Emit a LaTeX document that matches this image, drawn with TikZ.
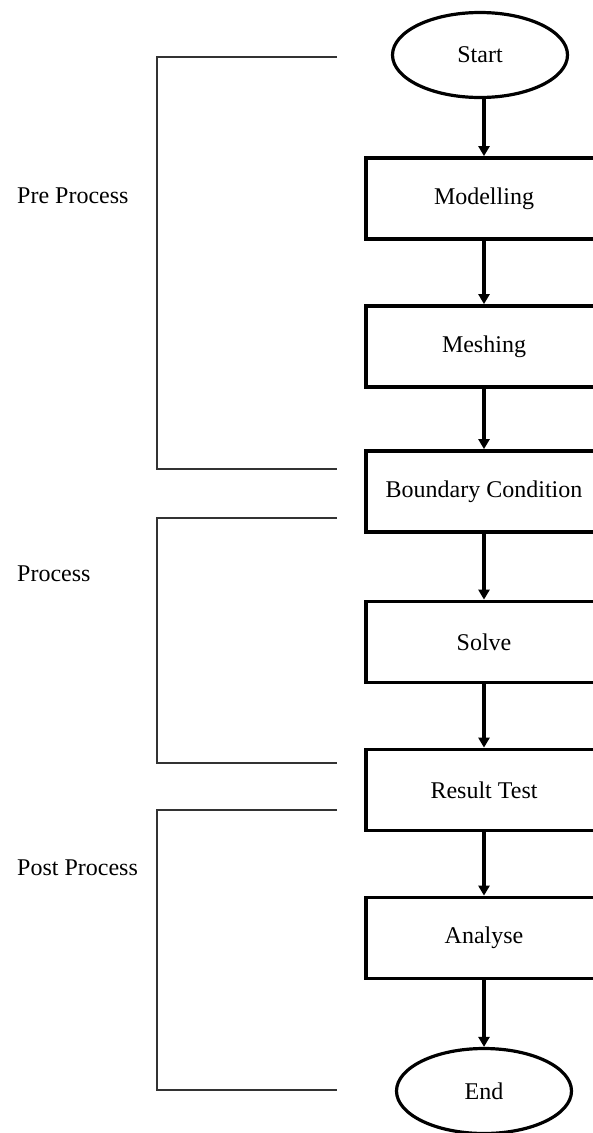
\documentclass[tikz,border=0pt]{standalone}
\usepackage{fontspec}
\setmainfont{Liberation Serif}
\usetikzlibrary{shapes.geometric,arrows.meta}
\tikzstyle{every node}=[font=\fontsize{24}{28}\selectfont]
\tikzstyle{stepbox}=[draw,rectangle,line width=3.8pt,minimum width=236pt,minimum height=81pt,inner sep=0pt]
\tikzstyle{terminal}=[draw,ellipse,line width=3.2pt,minimum width=175pt,minimum height=85pt,inner sep=0pt]
\tikzstyle{flow}=[line width=3.5pt,-{Triangle[length=10pt,width=11pt]}]
\tikzstyle{phase}=[line width=1.8pt,black!80]

\begin{document}
\begin{tikzpicture}[x=1pt,y=-1pt]
%Simulation flow chart
	\useasboundingbox (0,0) rectangle (593,1133);
	\newcommand\colx{484} %x of the flow column
	\newcommand\brL{157} %left of the phase brackets
	\newcommand\brR{337} %right end of the phase brackets
	%STEPS
	\node[terminal] (start) at (480,55) {Start};
	\node[stepbox] (model) at (\colx,198.5) {Modelling};
	\node[stepbox] (mesh) at (\colx,346.5) {Meshing};
	\node[stepbox] (bc) at (\colx,491.5) {Boundary Condition};
	\node[stepbox] (solve) at (\colx,642) {Solve};
	\node[stepbox] (result) at (\colx,790) {Result Test};
	\node[stepbox] (analyse) at (\colx,938) {Analyse};
	\node[terminal] (end) at (484,1091) {End};
	% Arrows
	\draw[flow] (start.south -| model) -- (model.north);
	\draw[flow] (model) -- (mesh);
	\draw[flow] (mesh) -- (bc);
	\draw[flow] (bc) -- (solve);
	\draw[flow] (solve) -- (result);
	\draw[flow] (result) -- (analyse);
	\draw[flow] (analyse.south) -- (end.north -| analyse);
	%PHASES
	\coordinate (preT) at (\brR,57); %% preT is the top end of the Pre Process bracket
	\coordinate (preB) at (\brR,469); %% preB is the bottom end
	\coordinate (proT) at (\brR,518); %% proT is the top end of the Process bracket
	\coordinate (proB) at (\brR,763); %% proB is the bottom end
	\coordinate (posT) at (\brR,810); %% posT is the top end of the Post Process bracket
	\coordinate (posB) at (\brR,1090); %% posB is the bottom end
	\draw[phase] (preT) -| (\brL,469) -- (preB);
	\draw[phase] (proT) -| (\brL,763) -- (proB);
	\draw[phase] (posT) -| (\brL,1090) -- (posB);
	%description
	\node[anchor=west,inner sep=0pt] (pre) at (17,196) {Pre Process};
	\node[anchor=west,inner sep=0pt] (pro) at (17,574) {Process};
	\node[anchor=west,inner sep=0pt] (post) at (17,868) {Post Process};
\end{tikzpicture}
\end{document}
